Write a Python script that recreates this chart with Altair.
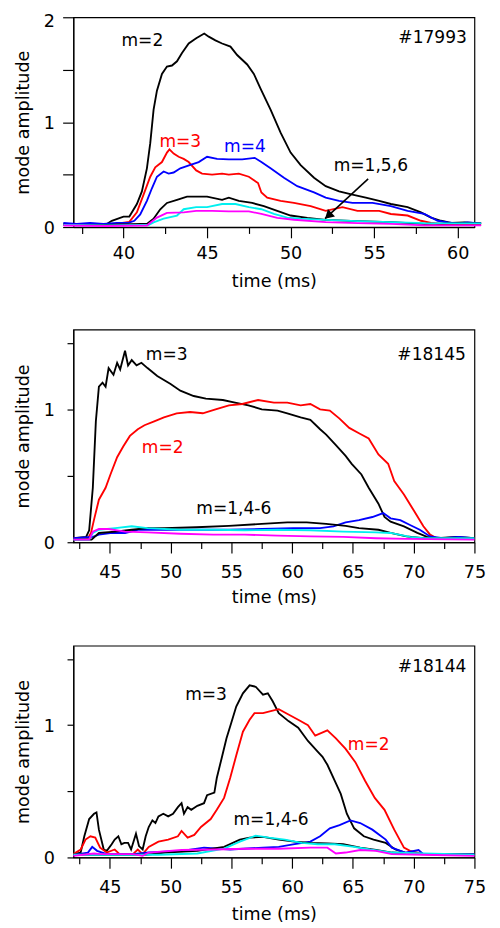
import altair as alt
import pandas as pd

FONT = "DejaVu Sans"

# ---------------- Panel 1 (#17993) ----------------
p1_k1_t = [36.4, 37.5, 38.5, 39.0, 39.3, 40.0, 40.35, 40.8, 41.1, 41.4, 41.6, 41.8, 42.0, 42.3, 42.6, 42.9, 43.2, 43.5, 43.9, 44.35, 44.83, 45.1, 45.5, 45.9, 46.4, 46.8, 47.4, 47.8, 48.2, 48.8, 49.4, 50.0, 50.6, 51.4, 52.1, 52.9, 53.7, 54.5, 55.3, 56.0, 57.0, 57.8, 58.4, 59.0, 59.6, 60.4, 61.4]
p1_k1_a = [0.03, 0.02, 0.03, 0.03, 0.06, 0.10, 0.10, 0.22, 0.34, 0.56, 0.80, 1.12, 1.30, 1.46, 1.53, 1.54, 1.58, 1.66, 1.75, 1.80, 1.845, 1.815, 1.78, 1.75, 1.72, 1.64, 1.55, 1.46, 1.32, 1.12, 0.90, 0.71, 0.59, 0.47, 0.39, 0.34, 0.31, 0.28, 0.25, 0.22, 0.19, 0.14, 0.09, 0.06, 0.04, 0.045, 0.035]
p1_r_t = [36.4, 38.0, 39.5, 40.35, 40.8, 41.2, 41.6, 41.9, 42.3, 42.6, 42.75, 43.0, 43.3, 43.6, 43.9, 44.35, 44.7, 45.3, 45.9, 46.3, 46.9, 47.5, 48.05, 48.25, 48.6, 49.4, 50.2, 51.2, 52.1, 53.1, 54.0, 55.3, 56.0, 57.0, 57.8, 58.4, 59.5, 61.4]
p1_r_a = [0.02, 0.02, 0.03, 0.05, 0.14, 0.31, 0.48, 0.57, 0.62, 0.71, 0.74, 0.70, 0.67, 0.65, 0.62, 0.54, 0.51, 0.50, 0.51, 0.50, 0.51, 0.48, 0.42, 0.33, 0.28, 0.25, 0.23, 0.20, 0.155, 0.19, 0.155, 0.155, 0.125, 0.11, 0.06, 0.04, 0.02, 0.02]
p1_b_t = [36.4, 37.2, 38.0, 38.8, 39.6, 40.3, 40.65, 41.0, 41.4, 41.7, 42.0, 42.4, 42.7, 43.0, 43.4, 43.96, 44.5, 45.0, 45.6, 46.3, 47.1, 47.85, 48.25, 48.8, 49.6, 50.4, 51.4, 52.1, 52.9, 53.7, 54.9, 56.0, 57.0, 58.0, 58.8, 59.4, 60.0, 60.6, 61.4]
p1_b_a = [0.04, 0.03, 0.04, 0.03, 0.04, 0.04, 0.06, 0.12, 0.25, 0.37, 0.48, 0.53, 0.51, 0.52, 0.56, 0.59, 0.62, 0.67, 0.65, 0.645, 0.645, 0.66, 0.62, 0.56, 0.47, 0.39, 0.33, 0.28, 0.25, 0.23, 0.23, 0.20, 0.155, 0.125, 0.06, 0.045, 0.035, 0.045, 0.035]
p1_k2_t = [36.4, 39.0, 41.0, 41.4, 41.8, 42.2, 42.6, 43.2, 43.8, 44.35, 45.0, 45.9, 46.3, 46.9, 47.7, 48.4, 49.2, 50.0, 51.0, 52.1, 54.0, 56.0, 58.0, 60.0, 61.4]
p1_k2_a = [0.02, 0.02, 0.03, 0.03, 0.08, 0.17, 0.23, 0.26, 0.29, 0.29, 0.29, 0.26, 0.28, 0.25, 0.23, 0.20, 0.155, 0.11, 0.087, 0.068, 0.056, 0.047, 0.03, 0.035, 0.035]
p1_c_t = [36.4, 39.0, 41.5, 41.8, 42.4, 43.2, 43.6, 44.35, 45.0, 45.9, 46.7, 47.5, 48.25, 49.0, 49.8, 50.6, 52.1, 54.0, 56.0, 58.0, 61.4]
p1_c_a = [0.02, 0.015, 0.02, 0.045, 0.08, 0.11, 0.17, 0.19, 0.19, 0.22, 0.22, 0.19, 0.17, 0.125, 0.09, 0.08, 0.068, 0.056, 0.047, 0.037, 0.035]
p1_m_t = [36.4, 39.0, 41.4, 42.0, 42.6, 43.6, 44.35, 45.3, 46.3, 47.5, 48.25, 49.2, 50.2, 52.1, 54.0, 56.0, 58.0, 61.4]
p1_m_a = [0.015, 0.01, 0.015, 0.09, 0.135, 0.14, 0.155, 0.155, 0.15, 0.15, 0.125, 0.087, 0.07, 0.047, 0.037, 0.03, 0.016, 0.016]

p1_lab_t = [41.13, 43.4, 47.27, 54.8]
p1_lab_a = [1.77, 0.81, 0.76, 0.58]
p1_lab_txt = ["m=2", "m=3", "m=4", "m=1,5,6"]
p1_lab_col = ["black", "#ff0000", "#0000ff", "black"]
p1_tag = ("#17993", 60.55, 1.80)
# arrow: tail (t, a) -> tip (t2, a2); head drawn just behind the tip
p1_arrow = (54.64, 0.46, 52.06, 0.08)
p1_arrow_head = (52.25, 0.108)

# ---------------- Panel 2 (#18145) ----------------
p2_k1_t = [42.0, 43.05, 43.3, 43.6, 43.85, 44.1, 44.4, 44.65, 44.9, 45.3, 45.6, 45.85, 46.25, 46.5, 46.8, 47.2, 47.6, 48.1, 48.9, 50.0, 50.8, 51.9, 52.9, 54.3, 55.3, 56.4, 57.5, 58.8, 59.6, 60.7, 61.5, 62.3, 62.8, 63.6, 64.4, 64.9, 65.7, 66.3, 67.1, 67.6, 68.1, 69.2, 70.3, 71.1, 71.9, 73.5, 75.0]
p2_k1_a = [0.03, 0.04, 0.09, 0.41, 0.91, 1.17, 1.20, 1.17, 1.31, 1.26, 1.35, 1.30, 1.44, 1.33, 1.37, 1.33, 1.35, 1.31, 1.25, 1.19, 1.14, 1.10, 1.08, 1.07, 1.05, 1.03, 1.00, 0.99, 0.97, 0.94, 0.92, 0.85, 0.81, 0.73, 0.65, 0.59, 0.51, 0.41, 0.29, 0.19, 0.155, 0.12, 0.07, 0.04, 0.03, 0.04, 0.03]
p2_r_t = [42.0, 43.2, 43.45, 43.7, 44.1, 44.65, 45.05, 45.6, 46.1, 46.65, 47.3, 47.85, 48.65, 49.45, 50.5, 51.6, 52.65, 53.7, 54.8, 55.9, 57.2, 58.5, 59.6, 60.7, 61.5, 62.3, 63.1, 63.9, 64.7, 65.5, 66.3, 67.1, 67.9, 68.4, 69.2, 70.0, 70.8, 71.35, 71.9, 73.5, 75.0]
p2_r_a = [0.03, 0.03, 0.07, 0.17, 0.32, 0.41, 0.51, 0.64, 0.72, 0.80, 0.85, 0.88, 0.91, 0.94, 0.97, 0.98, 0.97, 1.00, 1.03, 1.04, 1.07, 1.05, 1.05, 1.03, 1.04, 1.00, 0.99, 0.93, 0.86, 0.82, 0.78, 0.66, 0.59, 0.46, 0.36, 0.24, 0.12, 0.057, 0.03, 0.03, 0.03]
p2_b_t = [42.0, 43.6, 44.1, 45.2, 46.25, 47.3, 48.9, 50.8, 52.65, 54.8, 57.5, 60.1, 62.3, 63.4, 64.4, 65.5, 66.6, 67.5, 68.1, 68.9, 69.7, 70.5, 71.35, 72.4, 73.7, 75.0]
p2_b_a = [0.03, 0.04, 0.057, 0.07, 0.07, 0.094, 0.094, 0.094, 0.094, 0.094, 0.10, 0.106, 0.106, 0.12, 0.15, 0.167, 0.19, 0.22, 0.18, 0.167, 0.13, 0.094, 0.044, 0.03, 0.04, 0.03]
p2_k2_t = [42.0, 43.5, 44.1, 45.45, 46.8, 48.1, 49.45, 52.1, 54.8, 57.5, 59.6, 61.2, 62.8, 64.4, 65.5, 67.1, 68.1, 69.4, 70.8, 75.0]
p2_k2_a = [0.02, 0.02, 0.07, 0.08, 0.094, 0.106, 0.106, 0.113, 0.123, 0.138, 0.15, 0.15, 0.138, 0.123, 0.106, 0.094, 0.07, 0.044, 0.03, 0.03]
p2_c_t = [42.0, 43.3, 43.6, 44.1, 45.45, 46.8, 48.1, 50.8, 53.5, 56.1, 58.8, 61.5, 64.2, 66.9, 68.1, 69.7, 70.8, 75.0]
p2_c_a = [0.02, 0.02, 0.07, 0.094, 0.106, 0.12, 0.106, 0.094, 0.094, 0.09, 0.094, 0.09, 0.08, 0.074, 0.07, 0.04, 0.03, 0.03]
p2_m_t = [42.0, 43.3, 43.6, 44.1, 44.9, 46.25, 48.1, 50.8, 53.5, 56.1, 58.8, 61.5, 64.2, 66.9, 69.4, 75.0]
p2_m_a = [0.02, 0.02, 0.08, 0.10, 0.10, 0.08, 0.074, 0.064, 0.057, 0.057, 0.05, 0.044, 0.04, 0.03, 0.025, 0.02]

p2_lab_t = [49.68, 49.35, 55.2]
p2_lab_a = [1.41, 0.707, 0.25]
p2_lab_txt = ["m=3", "m=2", "m=1,4-6"]
p2_lab_col = ["black", "#ff0000", "black"]
p2_tag = ("#18145", 74.3, 1.41)

# ---------------- Panel 3 (#18144) ----------------
p3_k1_t = [42.0, 42.6, 42.9, 43.3, 43.7, 43.9, 44.1, 44.5, 44.75, 45.15, 45.4, 45.7, 45.95, 46.2, 46.5, 46.75, 47.15, 47.4, 47.7, 47.95, 48.2, 48.5, 48.75, 49.0, 49.4, 49.8, 50.2, 50.6, 50.9, 51.1, 51.4, 51.7, 52.2, 52.75, 53.0, 53.6, 53.8, 54.2, 54.6, 55.0, 55.4, 55.95, 56.5, 57.0, 57.6, 58.0, 58.4, 58.9, 59.7, 60.5, 61.3, 62.1, 62.5, 62.9, 63.5, 64.0, 64.5, 65.1, 65.9, 66.7, 67.7, 68.5, 69.3, 70.4, 75.0]
p3_k1_a = [0.025, 0.037, 0.16, 0.29, 0.33, 0.34, 0.21, 0.06, 0.05, 0.10, 0.135, 0.16, 0.10, 0.11, 0.11, 0.06, 0.18, 0.086, 0.06, 0.16, 0.23, 0.28, 0.26, 0.31, 0.33, 0.31, 0.33, 0.38, 0.41, 0.33, 0.38, 0.36, 0.39, 0.41, 0.47, 0.49, 0.60, 0.75, 0.90, 1.02, 1.14, 1.24, 1.30, 1.29, 1.23, 1.24, 1.18, 1.09, 1.03, 0.98, 0.88, 0.80, 0.76, 0.70, 0.58, 0.48, 0.33, 0.22, 0.16, 0.135, 0.11, 0.06, 0.037, 0.025, 0.02]
p3_r_t = [42.0, 42.6, 43.0, 43.4, 43.8, 44.2, 44.75, 45.4, 45.8, 46.9, 47.3, 47.7, 48.2, 49.0, 49.8, 50.6, 50.9, 51.4, 51.95, 52.5, 53.3, 53.8, 54.4, 54.9, 55.4, 55.95, 56.5, 56.9, 57.6, 58.4, 58.9, 59.7, 60.5, 61.3, 61.9, 62.9, 63.6, 64.4, 65.2, 66.0, 66.8, 67.6, 68.4, 69.2, 69.7, 70.8, 75.0]
p3_r_a = [0.025, 0.06, 0.135, 0.16, 0.15, 0.074, 0.037, 0.06, 0.025, 0.025, 0.06, 0.025, 0.08, 0.12, 0.135, 0.16, 0.20, 0.15, 0.17, 0.23, 0.29, 0.36, 0.45, 0.60, 0.77, 0.95, 1.04, 1.09, 1.09, 1.11, 1.12, 1.08, 1.04, 1.00, 0.92, 0.96, 0.90, 0.82, 0.72, 0.58, 0.45, 0.36, 0.21, 0.074, 0.05, 0.025, 0.02]
p3_b_t = [42.0, 43.2, 43.55, 43.95, 44.75, 46.9, 48.2, 50.9, 52.75, 54.9, 57.6, 58.9, 60.2, 61.5, 62.3, 63.1, 63.9, 64.8, 65.6, 66.6, 67.7, 68.2, 69.3, 70.4, 70.8, 75.0]
p3_b_a = [0.02, 0.037, 0.08, 0.05, 0.025, 0.025, 0.037, 0.05, 0.074, 0.06, 0.074, 0.08, 0.10, 0.12, 0.16, 0.22, 0.245, 0.28, 0.26, 0.21, 0.135, 0.074, 0.037, 0.056, 0.025, 0.025]
p3_k2_t = [42.0, 48.0, 49.55, 52.2, 54.4, 55.7, 56.5, 57.6, 58.9, 60.2, 61.5, 62.9, 64.2, 65.6, 66.9, 68.2, 70.8, 75.0]
p3_k2_a = [0.02, 0.02, 0.037, 0.05, 0.08, 0.135, 0.15, 0.155, 0.135, 0.12, 0.11, 0.105, 0.10, 0.074, 0.056, 0.037, 0.025, 0.02]
p3_c_t = [42.0, 49.0, 52.2, 54.4, 55.7, 57.0, 58.1, 59.4, 60.8, 62.1, 63.5, 65.1, 66.4, 68.2, 70.8, 75.0]
p3_c_a = [0.02, 0.02, 0.03, 0.066, 0.12, 0.165, 0.15, 0.135, 0.11, 0.10, 0.10, 0.08, 0.06, 0.037, 0.03, 0.02]
p3_m_t = [42.0, 43.7, 44.2, 46.9, 47.7, 48.2, 50.9, 53.6, 56.2, 58.9, 61.5, 62.9, 63.6, 64.4, 65.6, 66.9, 68.2, 70.8, 75.0]
p3_m_a = [0.012, 0.03, 0.025, 0.025, 0.012, 0.037, 0.056, 0.06, 0.066, 0.066, 0.074, 0.074, 0.03, 0.037, 0.056, 0.05, 0.025, 0.02, 0.012]

p3_lab_t = [52.92, 66.3, 58.26]
p3_lab_a = [1.23, 0.85, 0.28]
p3_lab_txt = ["m=3", "m=2", "m=1,4-6"]
p3_lab_col = ["black", "#ff0000", "black"]
p3_tag = ("#18144", 74.34, 1.44)

SERIES_COLORS = [("k1", "black"), ("r", "#ff0000"), ("b", "#0000ff"),
                 ("k2", "black"), ("c", "#00f0f0"), ("m", "#ff00ff")]


def make_panel(series, xdom, xvals, ydom, yvals, ytick, ylabpad, xlabpad,
               xtitlepad, h, lab, tag, arrow=None, head=None):
    rows = []
    for key, (ts, vals) in series.items():
        for t, a in zip(ts, vals):
            rows.append({"t": t, "a": a, "s": key})
    df = pd.DataFrame(rows)

    xax = alt.Axis(
        values=xvals, title="time (ms)", grid=False,
        labelExpr="datum.value % 5 === 0 ? format(datum.value, 'd') : ''",
        tickSize={"condition": {"test": "datum.value % 5 === 0", "value": 11}, "value": 6.5},
        labelPadding=xlabpad, titlePadding=xtitlepad,
        labelFlush=False, labelOverlap=False,
    )
    yax = alt.Axis(
        values=yvals, title="mode amplitude", grid=False,
        labelExpr="datum.value % 1 === 0 ? format(datum.value, 'd') : ''",
        tickSize=ytick, labelPadding=ylabpad, titlePadding=11,
        labelOverlap=False,
        labelOffset={"condition": {"test": "datum.value === 2", "value": 4.5}, "value": 1.5},
    )
    X = alt.X("t:Q", scale=alt.Scale(domain=xdom, nice=False, zero=False), axis=xax)
    Y = alt.Y("a:Q", scale=alt.Scale(domain=ydom, nice=False, zero=False), axis=yax)

    layers = []
    for key, col in SERIES_COLORS:
        layers.append(
            alt.Chart(df).transform_filter(alt.datum.s == key)
            .mark_line(color=col, strokeWidth=1.9)
            .encode(x=X, y=Y)
        )

    lab_df = pd.DataFrame({"t": lab[0], "a": lab[1], "txt": lab[2], "col": lab[3]})
    layers.append(
        alt.Chart(lab_df).mark_text(font=FONT, fontSize=17.5, align="center", baseline="middle")
        .encode(x=X, y=Y, text="txt:N", color=alt.Color("col:N", scale=None))
    )
    tag_df = pd.DataFrame({"t": [tag[1]], "a": [tag[2]], "txt": [tag[0]]})
    layers.append(
        alt.Chart(tag_df).mark_text(font=FONT, fontSize=17.5, align="right", baseline="middle", color="black")
        .encode(x=X, y=Y, text="txt:N")
    )
    if arrow is not None:
        arr_df = pd.DataFrame({"t": [arrow[0]], "a": [arrow[1]], "t2": [arrow[2]], "a2": [arrow[3]]})
        layers.append(
            alt.Chart(arr_df).mark_rule(color="black", strokeWidth=1.6)
            .encode(x=X, y=Y, x2="t2:Q", y2="a2:Q")
        )
        head_df = pd.DataFrame({"t": [head[0]], "a": [head[1]]})
        layers.append(
            alt.Chart(head_df).mark_point(shape="triangle-up", filled=True, size=110,
                                          angle=227, color="black", opacity=1)
            .encode(x=X, y=Y)
        )
    return alt.layer(*layers).properties(width=411, height=h)


p1 = make_panel(
    {"k1": (p1_k1_t, p1_k1_a), "r": (p1_r_t, p1_r_a), "b": (p1_b_t, p1_b_a),
     "k2": (p1_k2_t, p1_k2_a), "c": (p1_c_t, p1_c_a), "m": (p1_m_t, p1_m_a)},
    [37, 61], [37.5 + 2.5 * i for i in range(10)], [0, 2], [0, 0.5, 1, 1.5, 2],
    11, 8.5, 7.5, 10.5, 215,
    (p1_lab_t, p1_lab_a, p1_lab_txt, p1_lab_col), p1_tag, p1_arrow, p1_arrow_head)

x23 = [42.5 + 2.5 * i for i in range(14)]
p2 = make_panel(
    {"k1": (p2_k1_t, p2_k1_a), "r": (p2_r_t, p2_r_a), "b": (p2_b_t, p2_b_a),
     "k2": (p2_k2_t, p2_k2_a), "c": (p2_c_t, p2_c_a), "m": (p2_m_t, p2_m_a)},
    [42, 75], x23, [0, 1.6], [0, 0.5, 1, 1.5],
    6.5, 13, 11, 8.0, 218,
    (p2_lab_t, p2_lab_a, p2_lab_txt, p2_lab_col), p2_tag)

p3 = make_panel(
    {"k1": (p3_k1_t, p3_k1_a), "r": (p3_r_t, p3_r_a), "b": (p3_b_t, p3_b_a),
     "k2": (p3_k2_t, p3_k2_a), "c": (p3_c_t, p3_c_a), "m": (p3_m_t, p3_m_a)},
    [42, 75], x23, [0, 1.6], [0, 0.5, 1, 1.5],
    6.5, 13, 11.3, 9.2, 217,
    (p3_lab_t, p3_lab_a, p3_lab_txt, p3_lab_col), p3_tag)

chart = (
    alt.vconcat(p1, p2, p3, spacing=38)
    .properties(padding={"left": 6, "top": -8, "right": 5, "bottom": 0})
    .configure_view(stroke="black", strokeWidth=1.2)
    .configure_axis(
        labelFont=FONT, labelFontSize=18, titleFont=FONT, titleFontSize=18,
        titleFontWeight="normal", labelColor="black", titleColor="black",
        tickColor="black", domainColor="black", tickWidth=1.2, domainWidth=1.2,
    )
)

chart.save("out.html", embed_options={"renderer": "svg", "actions": False})
